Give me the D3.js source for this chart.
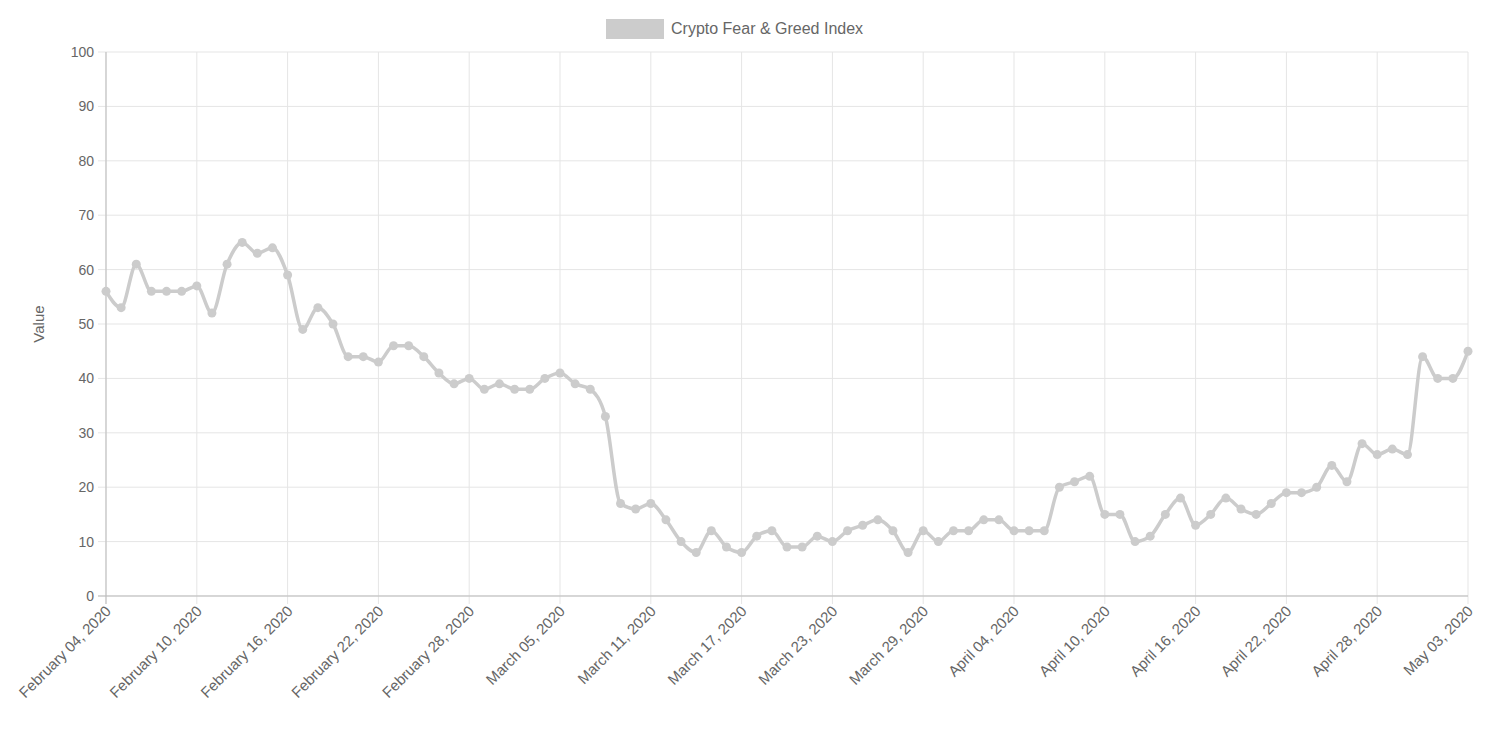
<!DOCTYPE html>
<html><head><meta charset="utf-8">
<script src="https://cdn.jsdelivr.net/npm/d3@7"></script>
<style>body{margin:0;background:#fff;font-family:"Liberation Sans",Arial,sans-serif}</style>
</head><body><svg id="c" width="1488" height="730"></svg>
<script>
const seriesName = "Crypto Fear & Greed Index";
const values = [56,53,61,56,56,56,57,52,61,65,63,64,59,49,53,50,44,44,43,46,46,44,41,39,40,38,39,38,38,40,41,39,38,33,17,16,17,14,10,8,12,9,8,11,12,9,9,11,10,12,13,14,12,8,12,10,12,12,14,14,12,12,12,20,21,22,15,15,10,11,15,18,13,15,18,16,15,17,19,19,20,24,21,28,26,27,26,44,40,40,45];
const labels = (()=>{const out=[];const m=["January","February","March","April","May"];let d=new Date(2020,1,4);
  for(let i=0;i<90;i++){out.push(m[d.getMonth()]+" "+String(d.getDate()).padStart(2,"0")+", 2020");if(i===88)out.push(out[out.length-1]);d.setDate(d.getDate()+1);}return out;})();
labels.length = 91;
labels[90] = "May 03, 2020";
const yTicks = [0,10,20,30,40,50,60,70,80,90,100];

const svg = d3.select("#c");
const L=106,R=1468,T=52,B=596;
const x = d3.scaleLinear().domain([0,values.length-1]).range([L,R]);
const y = d3.scaleLinear().domain([0,100]).range([B,T]);
const grid="#e5e5e5", txt="#666", col="#cccccc";

svg.append("g").selectAll("line").data(yTicks).join("line")
 .attr("x1",L-8).attr("x2",R).attr("y1",d=>y(d)).attr("y2",d=>y(d)).attr("stroke",grid);
const xt = d3.range(0,values.length,6);
svg.append("g").selectAll("line").data(xt).join("line")
 .attr("x1",d=>x(d)).attr("x2",d=>x(d)).attr("y1",T).attr("y2",B+8).attr("stroke",grid);
svg.append("line").attr("x1",L).attr("x2",L).attr("y1",T).attr("y2",B+8).attr("stroke","#bbb");
svg.append("line").attr("x1",L-8).attr("x2",R).attr("y1",B).attr("y2",B).attr("stroke","#bbb");

svg.append("g").selectAll("text").data(yTicks).join("text")
 .attr("x",L-12).attr("y",d=>y(d)+5).attr("text-anchor","end").attr("fill",txt).attr("font-size",14).text(d=>d);
svg.append("g").selectAll("text").data(xt).join("text")
 .attr("transform",d=>`translate(${x(d)+6},${B+16}) rotate(-45)`).attr("text-anchor","end")
 .attr("fill",txt).attr("font-size",15).text(d=>labels[d]);
svg.append("text").attr("transform",`translate(44,${(T+B)/2}) rotate(-90)`).attr("text-anchor","middle")
 .attr("fill",txt).attr("font-size",15).text("Value");

svg.append("rect").attr("x",606).attr("y",19).attr("width",58).attr("height",20).attr("fill",col);
svg.append("text").attr("x",671).attr("y",34).attr("fill",txt).attr("font-size",16).text(seriesName);

const line = d3.line().x((d,i)=>x(i)).y(d=>y(d)).curve(d3.curveMonotoneX);
svg.append("path").datum(values).attr("d",line).attr("fill","none").attr("stroke",col).attr("stroke-width",3.5);
svg.append("g").selectAll("circle").data(values).join("circle")
 .attr("cx",(d,i)=>x(i)).attr("cy",d=>y(d)).attr("r",4.5).attr("fill",col);
</script></body></html>
